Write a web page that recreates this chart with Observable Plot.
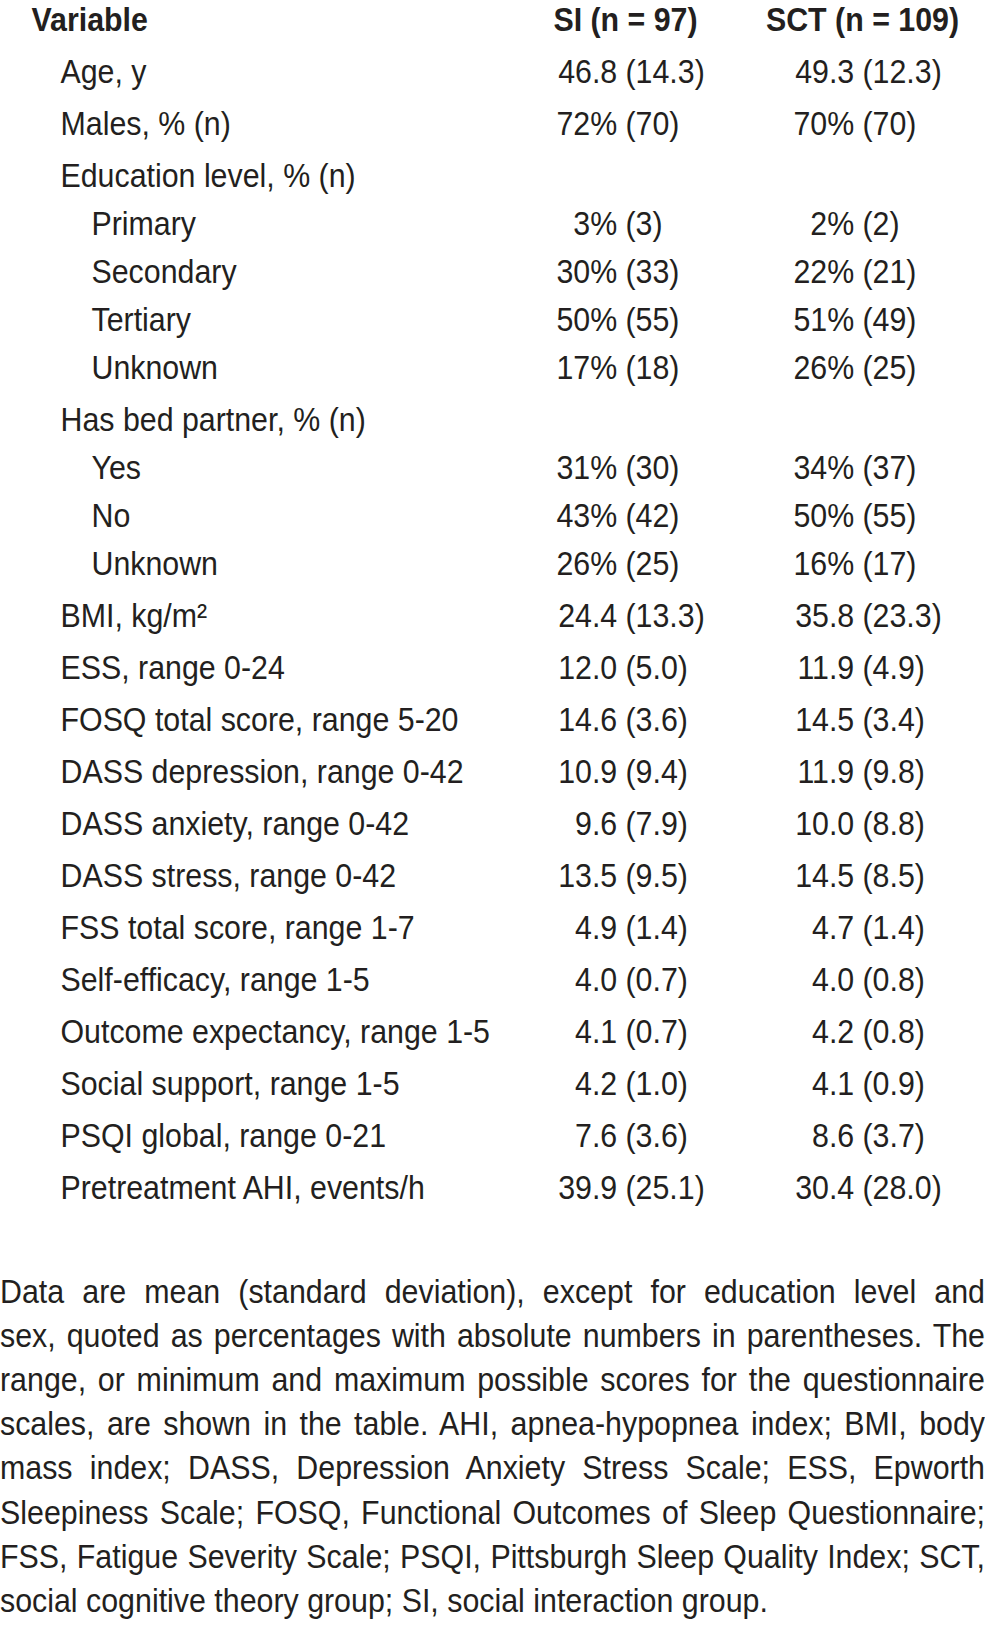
<!DOCTYPE html>
<html>
<head>
<meta charset="utf-8">
<script src="https://cdn.jsdelivr.net/npm/d3@7"></script>
<script src="https://cdn.jsdelivr.net/npm/@observablehq/plot@0.6"></script>
<style>
  html, body { margin: 0; padding: 0; background: #ffffff; overflow: hidden; }
  body { width: 985px; font-family: "Liberation Sans", Arial, sans-serif; color: #231f20; }
  #chart svg { display: block; }
  #caption { margin-top: 29.5px; width: 985px; font-size: 33px; line-height: 44.2px; }
  #caption div { width: 1070.65px; white-space: nowrap; text-align: justify; text-align-last: justify; transform: scaleX(0.92); transform-origin: 0 0; }
  #caption div.last { text-align-last: left; }
</style>
</head>
<body>
<div id="chart"></div>
<div id="caption"></div>
<script>
// ---- data ----
const headers = ["Variable", "SI (n = 97)", "SCT (n = 109)"];
const groups = ["SI", "SCT"];
const labels = [
  "Age, y", "Males, % (n)", "Education level, % (n)", "Primary", "Secondary", "Tertiary", "Unknown",
  "Has bed partner, % (n)", "Yes", "No", "Unknown",
  "BMI, kg/m\u00B2", "ESS, range 0-24", "FOSQ total score, range 5-20", "DASS depression, range 0-42",
  "DASS anxiety, range 0-42", "DASS stress, range 0-42", "FSS total score, range 1-7",
  "Self-efficacy, range 1-5", "Outcome expectancy, range 1-5", "Social support, range 1-5",
  "PSQI global, range 0-21", "Pretreatment AHI, events/h"
];
const levels = [1, 1, 1, 2, 2, 2, 2, 1, 2, 2, 2, 1, 1, 1, 1, 1, 1, 1, 1, 1, 1, 1, 1];
const siValues = [
  "46.8 (14.3)", "72% (70)", "", "3% (3)", "30% (33)", "50% (55)", "17% (18)",
  "", "31% (30)", "43% (42)", "26% (25)",
  "24.4 (13.3)", "12.0 (5.0)", "14.6 (3.6)", "10.9 (9.4)", "9.6 (7.9)", "13.5 (9.5)",
  "4.9 (1.4)", "4.0 (0.7)", "4.1 (0.7)", "4.2 (1.0)", "7.6 (3.6)", "39.9 (25.1)"
];
const sctValues = [
  "49.3 (12.3)", "70% (70)", "", "2% (2)", "22% (21)", "51% (49)", "26% (25)",
  "", "34% (37)", "50% (55)", "16% (17)",
  "35.8 (23.3)", "11.9 (4.9)", "14.5 (3.4)", "11.9 (9.8)", "10.0 (8.8)", "14.5 (8.5)",
  "4.7 (1.4)", "4.0 (0.8)", "4.2 (0.8)", "4.1 (0.9)", "8.6 (3.7)", "30.4 (28.0)"
];
const captionLines = [
  "Data are mean (standard deviation), except for education level and",
  "sex, quoted as percentages with absolute numbers in parentheses. The",
  "range, or minimum and maximum possible scores for the questionnaire",
  "scales, are shown in the table. AHI, apnea-hypopnea index; BMI, body",
  "mass index; DASS, Depression Anxiety Stress Scale; ESS, Epworth",
  "Sleepiness Scale; FOSQ, Functional Outcomes of Sleep Questionnaire;",
  "FSS, Fatigue Severity Scale; PSQI, Pittsburgh Sleep Quality Index; SCT,",
  "social cognitive theory group; SI, social interaction group."
];

// ---- build rows (sub-rows are set slightly tighter) ----
let u = 0;
const rows = labels.map((label, i) => {
  u += levels[i] === 2 ? 0.925 : 1;
  return {label, level: levels[i], u, SI: siValues[i], SCT: sctValues[i]};
});
const cells = rows.flatMap(r => groups.map(g => {
  const v = r[g];
  if (!v) return null;
  const k = v.indexOf(" (");
  return {group: g, u: r.u, mean: v.slice(0, k), sd: v.slice(k + 1)};
}).filter(Boolean));
const headerRow = [
  {u: 0, text: headers[1], group: "SI"},
  {u: 0, text: headers[2], group: "SCT"}
];

const ink = "#231f20";
const fs = 33;
const chart = Plot.plot({
  width: 985,
  height: 1240,
  margin: 0,
  style: {fontFamily: "'Liberation Sans', Arial, sans-serif", fontSize: fs + "px", background: "#ffffff", color: ink},
  x: {type: "point", domain: groups, range: [625, 862], padding: 0, axis: null},
  y: {type: "linear", domain: [0, d3.max(rows, d => d.u)], range: [30.5, 1198.5], axis: null},
  marks: [
    // header
    Plot.text([{u: 0, text: headers[0]}], {y: "u", text: "text", frameAnchor: "left", textAnchor: "start", dx: 31, lineAnchor: "bottom", fontSize: fs, fontWeight: "bold", fill: ink}),
    Plot.text(headerRow, {x: "group", y: "u", text: "text", textAnchor: "middle", lineAnchor: "bottom", fontSize: fs, fontWeight: "bold", fill: ink}),
    // variable labels
    Plot.text(rows.filter(d => d.level === 1), {y: "u", text: "label", frameAnchor: "left", textAnchor: "start", dx: 60, lineAnchor: "bottom", fontSize: fs, fill: ink}),
    Plot.text(rows.filter(d => d.level === 2), {y: "u", text: "label", frameAnchor: "left", textAnchor: "start", dx: 91, lineAnchor: "bottom", fontSize: fs, fill: ink}),
    // values aligned on the opening parenthesis
    Plot.text(cells, {x: "group", y: "u", text: "mean", textAnchor: "end", dx: -8.3, lineAnchor: "bottom", fontSize: fs, fill: ink}),
    Plot.text(cells, {x: "group", y: "u", text: "sd", textAnchor: "start", lineAnchor: "bottom", fontSize: fs, fill: ink})
  ]
});
// condensed type face: narrow each glyph run around its own anchor point
chart.querySelectorAll("text").forEach(t => {
  const tr = t.getAttribute("transform") || "";
  t.setAttribute("transform", tr + " scale(0.92,1)");
});
document.getElementById("chart").appendChild(chart);

const cap = document.getElementById("caption");
captionLines.forEach((line, i) => {
  const div = document.createElement("div");
  div.textContent = line;
  if (i === captionLines.length - 1) div.className = "last";
  cap.appendChild(div);
});
</script>
</body>
</html>
